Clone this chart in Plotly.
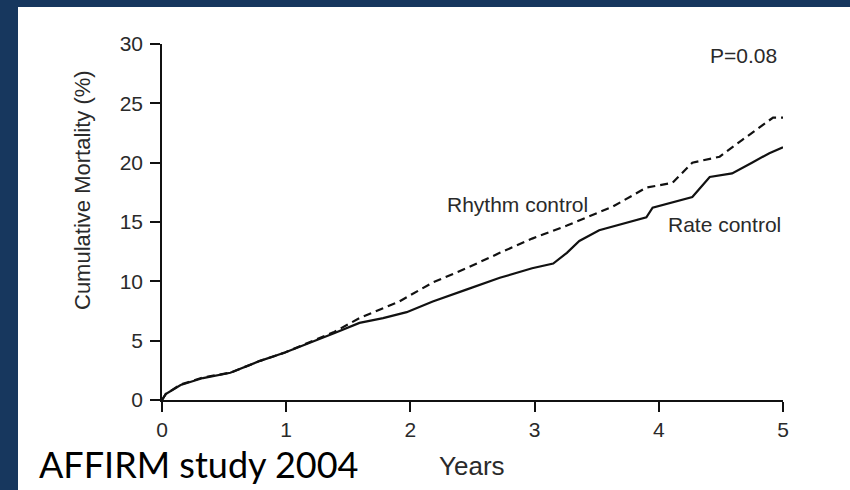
import plotly.graph_objects as go

# Rate control (solid) - years / cumulative mortality (%)
rate_t = [0, 0.03, 0.15, 0.33, 0.55, 0.79, 0.99, 1.19, 1.38, 1.59, 1.78, 1.97, 2.18, 2.45, 2.72,
          2.98, 3.15, 3.26, 3.36, 3.52, 3.63, 3.9, 3.95, 4.27, 4.41, 4.59, 4.75, 4.89, 5.0]
rate_v = [0, 0.5, 1.26, 1.85, 2.3, 3.3, 4.0, 4.8, 5.6, 6.5, 6.9, 7.4, 8.3, 9.3, 10.3,
          11.1, 11.5, 12.4, 13.4, 14.3, 14.6, 15.4, 16.2, 17.1, 18.8, 19.1, 20.0, 20.8, 21.3]

# Rhythm control (dashed)
rhythm_t = [0, 0.03, 0.15, 0.33, 0.55, 0.79, 0.99, 1.19, 1.38, 1.59, 1.78, 1.91, 2.18, 2.45,
            2.72, 2.98, 3.26, 3.52, 3.63, 3.9, 4.11, 4.27, 4.49, 4.67, 4.81, 4.92, 5.0]
rhythm_v = [0, 0.5, 1.3, 1.9, 2.3, 3.3, 4.0, 4.9, 5.7, 6.9, 7.7, 8.3, 9.9, 11.1,
            12.4, 13.6, 14.7, 15.8, 16.3, 17.9, 18.3, 20.0, 20.5, 21.9, 23.0, 23.8, 23.8]

x_ticks = [0, 1, 2, 3, 4, 5]
y_ticks = [0, 5, 10, 15, 20, 25, 30]

FONT = "Liberation Sans, Arial, Helvetica, sans-serif"
TXT = "#2a2a2a"

fig = go.Figure()
fig.add_trace(go.Scatter(x=rhythm_t, y=rhythm_v, mode="lines",
                         line=dict(color="#111111", width=2.2, dash="8px,5px"),
                         showlegend=False, hoverinfo="skip"))
fig.add_trace(go.Scatter(x=rate_t, y=rate_v, mode="lines",
                         line=dict(color="#111111", width=2.2),
                         showlegend=False, hoverinfo="skip"))

L, R, T, B = 162, 67, 44, 90
W, H = 850, 490
pw, ph = W - L - R, H - T - B


def px(xp):
    return (xp - L) / pw


def py(yp):
    return (H - B - yp) / ph


fig.add_shape(type="rect", xref="paper", yref="paper", layer="below",
              x0=px(18), x1=px(851), y0=py(7), y1=py(491),
              fillcolor="white", line=dict(width=0))

axis_common = dict(showline=True, linecolor="#111111", linewidth=1.6,
                   ticks="outside", ticklen=10, tickwidth=1.6, tickcolor="#111111",
                   showgrid=False, zeroline=False,
                   tickfont=dict(family=FONT, size=21, color=TXT))
fig.update_xaxes(range=[0, 5], tickvals=x_ticks, ticktext=[str(v) for v in x_ticks],
                 **axis_common)
fig.update_yaxes(range=[0, 30], tickvals=y_ticks, ticktext=[str(v) for v in y_ticks],
                 ticklabelstandoff=3, **axis_common)

fig.add_annotation(text="P=0.08", x=4.97, y=29.0, xref="x", yref="y",
                   xanchor="right", yanchor="middle", showarrow=False,
                   font=dict(family=FONT, size=21, color=TXT))
fig.add_annotation(text="Rhythm control", x=2.277, y=16.5, xref="x", yref="y",
                   xanchor="left", yanchor="middle", showarrow=False,
                   font=dict(family=FONT, size=21, color=TXT))
fig.add_annotation(text="Rate control", x=5.0, y=14.8, xref="x", yref="y",
                   xanchor="right", yanchor="middle", showarrow=False,
                   font=dict(family=FONT, size=21, color=TXT))
fig.add_annotation(text="Years", x=px(472), y=py(466), xref="paper", yref="paper",
                   xanchor="center", yanchor="middle", showarrow=False,
                   font=dict(family=FONT, size=26, color=TXT))
fig.add_annotation(text="Cumulative Mortality (%)", x=px(82), y=py(190),
                   xref="paper", yref="paper", textangle=-90,
                   xanchor="center", yanchor="middle", showarrow=False,
                   font=dict(family=FONT, size=22, color=TXT))
fig.add_annotation(text="AFFIRM study 2004", x=px(37), y=py(464),
                   xref="paper", yref="paper",
                   xanchor="left", yanchor="middle", showarrow=False,
                   font=dict(family="Lato, Calibri, sans-serif", size=36, color="#000000"))

fig.update_layout(width=W, height=H, margin=dict(l=L, r=R, t=T, b=B, autoexpand=False),
                  paper_bgcolor="#17375E", plot_bgcolor="white")

fig.write_html("out.html")
